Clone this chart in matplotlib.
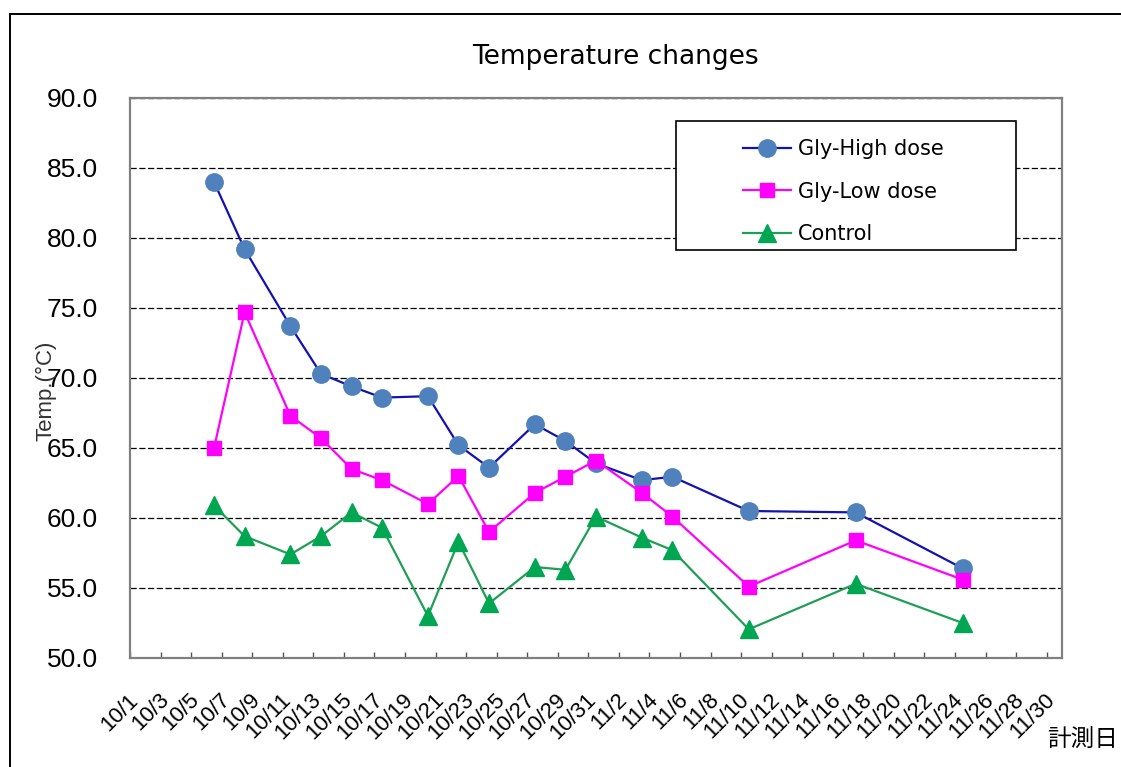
import pandas as pd
import matplotlib.pyplot as plt
from matplotlib.patches import Rectangle
from matplotlib.transforms import ScaledTranslation

plt.rcParams['font.family'] = ['Liberation Sans', 'Noto Sans CJK JP', 'DejaVu Sans']

# measurement days (month/day)
dates = ["10/6", "10/8", "10/11", "10/13", "10/15", "10/17", "10/20", "10/22", "10/24",
         "10/27", "10/29", "10/31", "11/3", "11/5", "11/10", "11/17", "11/24"]

high_dose = [84.0, 79.2, 73.7, 70.3, 69.4, 68.6, 68.7, 65.2, 63.6,
             66.7, 65.5, 63.9, 62.7, 62.95, 60.5, 60.4, 56.4]
low_dose = [65.0, 74.7, 67.3, 65.7, 63.5, 62.7, 61.0, 63.0, 59.0,
            61.8, 62.95, 64.1, 61.8, 60.1, 55.1, 58.4, 55.6]
control = [60.9, 58.7, 57.4, 58.7, 60.4, 59.3, 53.0, 58.3, 53.9,
           56.5, 56.3, 60.1, 58.6, 57.7, 52.05, 55.3, 52.5]

series_labels = ["Gly-High dose", "Gly-Low dose", "Control"]

start = pd.Timestamp("2008-10-01")
tick_dates = pd.date_range("2008-10-01", "2008-11-30", freq="2D")
tick_labels = [f"{d.month}/{d.day}" for d in tick_dates]
tick_pos = [(d - start).days for d in tick_dates]

# points sit in the middle of their day
x = [(pd.Timestamp("2008/" + s) - start).days + 0.5 for s in dates]

W, H = 1121, 767
fig = plt.figure(figsize=(W / 100, H / 100), dpi=100)
ax = fig.add_axes([130 / W, 1 - 658 / H, (1062 - 130) / W, (658 - 98) / H])

ax.plot(x, high_dose, color="#1212b0", lw=1.6, marker="o", ms=12.5,
        mfc="#4f81bd", mec="#4f81bd", label=series_labels[0], zorder=3)
ax.plot(x, low_dose, color="#ff00ff", lw=1.6, marker="s", ms=10,
        mfc="#ff00ff", mec="#ff00ff", label=series_labels[1], zorder=3)
ax.plot(x, control, color="#1f9e55", lw=1.6, marker="^", ms=13,
        mfc="#00a651", mec="#00a651", label=series_labels[2], zorder=3)

ax.set_xlim(0, 61)
ax.set_ylim(50, 90)
ax.set_yticks(range(50, 91, 5))
ax.set_yticklabels([f"{v:.1f}" for v in range(50, 91, 5)])
ax.tick_params(axis="y", length=0, pad=23, labelsize=19)

ax.set_xticks(tick_pos)
ax.set_xticklabels(tick_labels, rotation=45, ha="right", va="center",
                   rotation_mode="anchor", fontsize=16)
ax.tick_params(axis="x", direction="in", length=4, width=1, color="#555555", pad=28)
offset = ScaledTranslation(5 / 100, 0, fig.dpi_scale_trans)
for lab in ax.get_xticklabels():
    lab.set_transform(lab.get_transform() + offset)

ax.yaxis.grid(True, linestyle=(0, (5, 2)), color="black", lw=0.9)
ax.set_axisbelow(True)
for sp in ax.spines.values():
    sp.set_color("#808080")
    sp.set_linewidth(1.6)

# legend box
box = Rectangle((676 / W, 1 - 250 / H), 340 / W, 129 / H, transform=fig.transFigure,
                facecolor="white", edgecolor="black", lw=1.2, zorder=4, clip_on=False)
ax.add_patch(box)
leg = ax.legend(loc="upper left", bbox_to_anchor=(733 / W, 1 - 129 / H),
                bbox_transform=fig.transFigure, frameon=False, borderpad=0,
                handlelength=2.3, handletextpad=0.3, labelspacing=1.07,
                prop={"family": "DejaVu Sans", "size": 15})
leg.set_zorder(6)

fig.text(615 / W, 1 - 57 / H, "Temperature changes", ha="center", va="center",
         fontsize=19, family="DejaVu Sans")
fig.text(46 / W, 1 - 391 / H, "Temp.(°C)", rotation=90, ha="center", va="center",
         fontsize=16, color="#333333")
fig.text(1118 / W, 1 - 740 / H, "計測日", ha="right", va="center", fontsize=17,
         family=["Noto Sans CJK JP", "DejaVu Sans"])

# outer chart frame (runs off the right and bottom edges)
frame = Rectangle((10 / W, -0.1), 1.2, 1.1 - 14 / H, transform=fig.transFigure,
                  facecolor="none", edgecolor="black", lw=1.4)
fig.patches.append(frame)

fig.savefig("out.png", dpi=100)
